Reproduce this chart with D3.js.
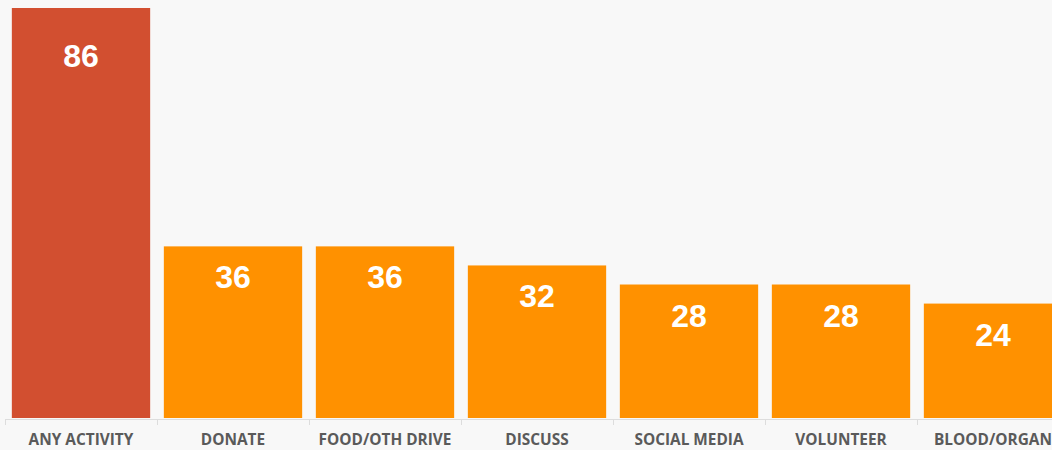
<!DOCTYPE html>
<html lang="en">
<head>
    <meta charset="UTF-8">
    <title>Activities</title>
    <script src="https://cdnjs.cloudflare.com/ajax/libs/d3/7.8.5/d3.min.js"></script>
    <style>
        body {
            margin: 0;
            padding: 0;
            background-color: #f8f8f8;
            overflow: hidden;
        }
        .cat-label {
            font-family: "Open Sans", sans-serif;
            font-weight: bold;
            font-size: 15.4px;
            fill: #5a5a5a;
        }
        .val-label {
            font-family: "Liberation Sans", Arial, sans-serif;
            font-weight: bold;
            font-size: 32px;
            fill: #ffffff;
        }
    </style>
</head>
<body>
    <div id="chart"></div>

    <script>
        // Chart data
        const categories = ['ANY ACTIVITY', 'DONATE', 'FOOD/OTH DRIVE', 'DISCUSS', 'SOCIAL MEDIA', 'VOLUNTEER', 'BLOOD/ORGAN'];
        const values = [86, 36, 36, 32, 28, 28, 24];
        const highlight = ['ANY ACTIVITY'];

        const width = 1052;
        const height = 450;

        const svg = d3.select('#chart')
            .append('svg')
            .attr('width', width)
            .attr('height', height);

        // Band scale: step of 152px starting at x=5
        const x = d3.scaleBand()
            .domain(categories)
            .range([5, 5 + 152 * categories.length])
            .paddingInner(0.09)
            .paddingOuter(0.045);

        const y = d3.scaleLinear()
            .domain([0, 86])
            .range([418, 8]);

        // Bars
        svg.append('g')
            .selectAll('rect')
            .data(categories)
            .enter().append('rect')
            .attr('x', d => x(d))
            .attr('y', (d, i) => y(values[i]))
            .attr('width', x.bandwidth())
            .attr('height', (d, i) => y(0) - y(values[i]))
            .attr('fill', d => highlight.includes(d) ? '#d24f30' : '#ff9100');

        // Value labels
        svg.append('g')
            .selectAll('text')
            .data(categories)
            .enter().append('text')
            .attr('class', 'val-label')
            .attr('text-anchor', 'middle')
            .attr('x', d => x(d) + x.bandwidth() / 2)
            .attr('y', (d, i) => Math.max(y(values[i]) + 42, 67))
            .text((d, i) => values[i]);

        // Axis line with ticks at band boundaries
        const axis = svg.append('g');
        axis.append('line')
            .attr('x1', 5)
            .attr('x2', width)
            .attr('y1', 419.5)
            .attr('y2', 419.5)
            .attr('stroke', '#dddddd')
            .attr('stroke-width', 1);

        axis.selectAll('.tick')
            .data(categories)
            .enter().append('line')
            .attr('x1', d => Math.round(x(d) - x.step() * x.paddingInner() / 2) + 0.5)
            .attr('x2', d => Math.round(x(d) - x.step() * x.paddingInner() / 2) + 0.5)
            .attr('y1', 419.5)
            .attr('y2', 425)
            .attr('stroke', '#dddddd');

        axis.selectAll('.cat-label')
            .data(categories)
            .enter().append('text')
            .attr('class', 'cat-label')
            .attr('text-anchor', 'middle')
            .attr('x', d => x(d) + x.bandwidth() / 2)
            .attr('y', 445)
            .text(d => d);
    </script>
</body>
</html>
